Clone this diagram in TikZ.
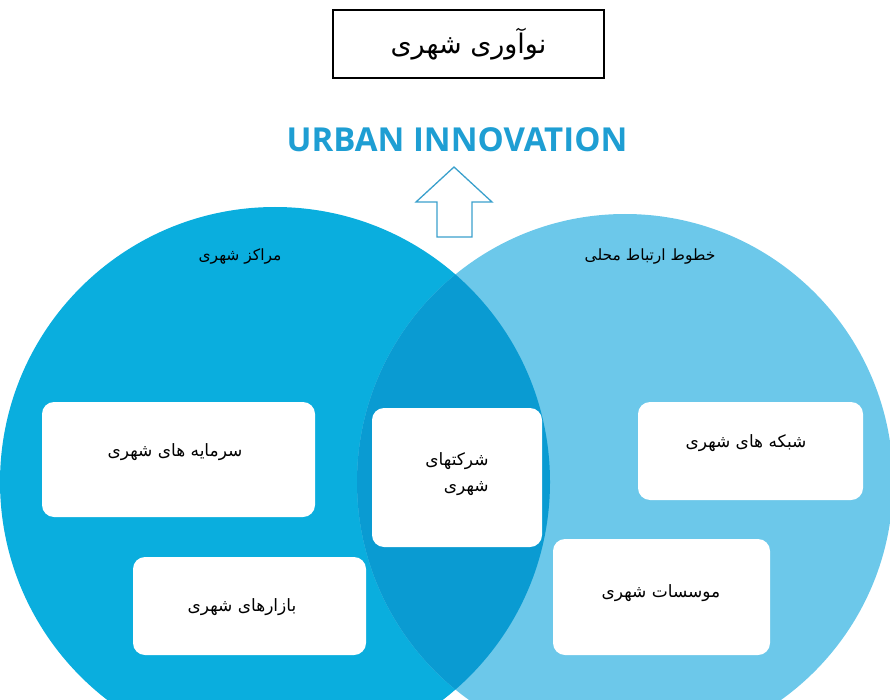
\documentclass[tikz,border=0pt]{standalone}
\usepackage{fontspec}
\TeXXeTstate=1
\newfontfamily\arabicfont[Script=Arabic]{DejaVu Sans}
\newfontfamily\headfont{Open Sans}
\definecolor{leftblue}{HTML}{0AAEDE}
\definecolor{rightblue}{HTML}{6CC8EA}
\definecolor{midblue}{HTML}{0A9BD2}
\definecolor{headblue}{HTML}{1E9ED3}
\definecolor{arrowblue}{HTML}{3AA0CC}
\begin{document}
\begin{tikzpicture}[x=1pt,y=-1pt,
  whitebox/.style={fill=white,rounded corners=12pt},
  boxlabel/.style={font=\arabicfont\fontsize{17}{26}\selectfont,text=black},
  circlabel/.style={font=\arabicfont\fontsize{15.5}{18}\selectfont,text=black}]
\useasboundingbox (0,0) rectangle (890,700);
\begin{scope}
\clip (0,0) rectangle (890,700);
\fill[leftblue] (275,482) circle (275);
\fill[rightblue] (625,482) circle (268);
\begin{scope}
\clip (275,482) circle (275);
\fill[midblue] (625,482) circle (268);
\end{scope}
\end{scope}
% title
\node[draw=black,line width=1.2pt,minimum width=271pt,minimum height=68pt,inner sep=0pt,
  font=\arabicfont\fontsize{27}{30}\selectfont] (title) at (468.5,44) {\beginR نوآوری شهری\endR};
\node[font=\headfont\bfseries\fontsize{33}{36}\selectfont,text=headblue] (head) at (457,140) {URBAN INNOVATION};
% arrow
\draw[arrowblue,line width=1.3pt,line join=miter]
  (437,237) -- (437,202) -- (416,202) -- (454,167) -- (492,202) -- (472,202) -- (472,237) -- cycle;
% circle labels
\node[circlabel] (lc) at (240,257) {\beginR مراکز شهری\endR};
\node[circlabel] (rc) at (650,257) {\beginR خطوط ارتباط محلی\endR};
% boxes
\fill[whitebox] (42,402) rectangle (315,517);
\node[boxlabel] (b1) at (175,452) {\beginR سرمایه های شهری\endR};
\fill[whitebox] (133,557) rectangle (366,655);
\node[boxlabel] (b2) at (242,607) {\beginR بازارهای شهری\endR};
\fill[whitebox] (372,408) rectangle (542,547);
\node[boxlabel,align=right] (b3) at (457,474) {\beginR شرکتهای\endR\\\beginR شهری\endR};
\fill[whitebox] (638,402) rectangle (863,500);
\node[boxlabel] (b4) at (746,443) {\beginR شبکه های شهری\endR};
\fill[whitebox] (553,539) rectangle (770,655);
\node[boxlabel] (b5) at (661,593) {\beginR موسسات شهری\endR};
\end{tikzpicture}
\end{document}
